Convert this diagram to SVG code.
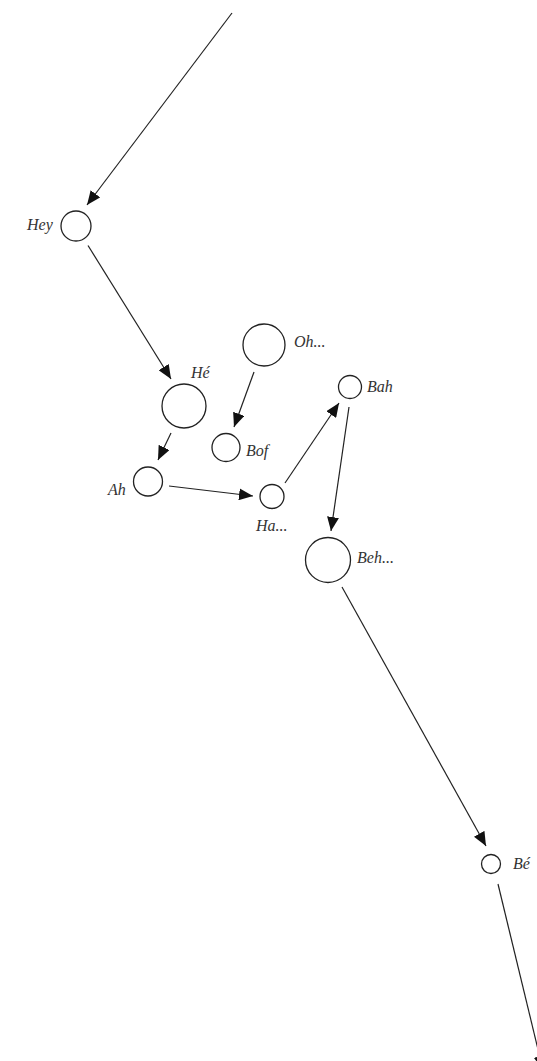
<svg xmlns="http://www.w3.org/2000/svg" width="537" height="1061" viewBox="0 0 537 1061">
<style>
.node circle{fill:#fff;stroke:#222;stroke-width:1.3}
.node text{font-family:"Liberation Serif","Times New Roman",serif;font-style:italic;font-size:16px;fill:#333}
.edges line{stroke:#222;stroke-width:1.2;marker-end:url(#ah)}
</style>
<defs>
<marker id="ah" markerUnits="userSpaceOnUse" markerWidth="14" markerHeight="12" refX="14" refY="6" orient="auto">
<path d="M0,0 L14,6 L0,12 z" fill="#111"/>
</marker>
</defs>
<rect width="537" height="1061" fill="#fff"/>
<g class="edges">
<line x1="232" y1="13" x2="87" y2="205"/>
<line x1="88" y1="245.5" x2="171" y2="379"/>
<line x1="254" y1="372" x2="234" y2="427"/>
<line x1="171" y1="433" x2="158" y2="460"/>
<line x1="169" y1="486" x2="253" y2="496"/>
<line x1="285" y1="483" x2="339" y2="403"/>
<line x1="349" y1="407" x2="331" y2="531"/>
<line x1="342" y1="587" x2="486" y2="846"/>
<line x1="498" y1="884" x2="543" y2="1070"/>
</g>
<g id="n-hey" class="node"><circle cx="76" cy="226" r="15"/><text x="27" y="230">Hey</text></g>
<g id="n-he" class="node"><circle cx="184" cy="406" r="22"/><text x="191" y="378">Hé</text></g>
<g id="n-oh" class="node"><circle cx="264" cy="345" r="21"/><text x="294" y="347">Oh...</text></g>
<g id="n-bof" class="node"><circle cx="226" cy="447.5" r="14"/><text x="246" y="456">Bof</text></g>
<g id="n-ah" class="node"><circle cx="148" cy="481.5" r="14.5"/><text x="108" y="495">Ah</text></g>
<g id="n-ha" class="node"><circle cx="272" cy="496.5" r="12"/><text x="256" y="531">Ha...</text></g>
<g id="n-bah" class="node"><circle cx="350" cy="387" r="11.5"/><text x="367" y="392">Bah</text></g>
<g id="n-beh" class="node"><circle cx="328" cy="560" r="22.5"/><text x="357" y="563">Beh...</text></g>
<g id="n-be" class="node"><circle cx="491" cy="864" r="9.5"/><text x="513" y="869">Bé</text></g>
</svg>
